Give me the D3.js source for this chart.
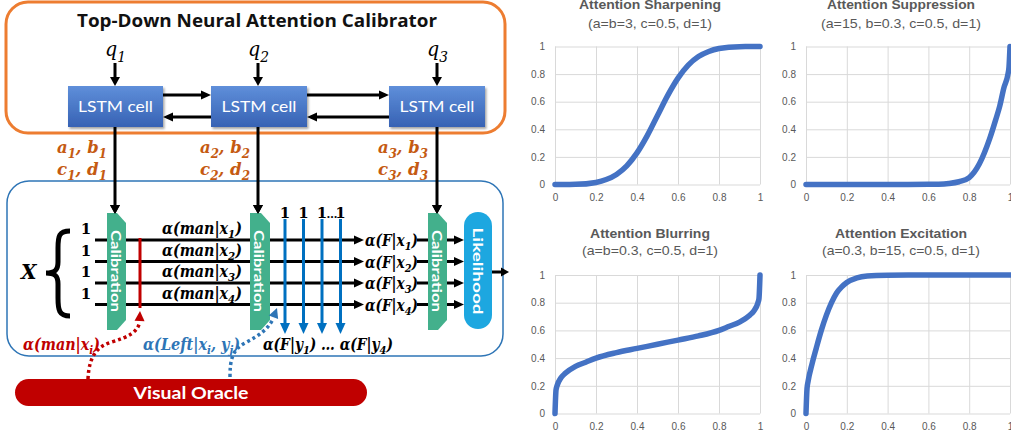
<!DOCTYPE html>
<html><head><meta charset="utf-8">
<script src="https://cdn.jsdelivr.net/npm/d3@7/dist/d3.min.js"></script>
<style>body{margin:0;background:#fff;overflow:hidden}svg{display:block}</style>
</head><body>
<svg id="fig" width="1011" height="438"></svg>
<script>
// ---------------- DATA ----------------
const xSharp = [0, 0.1, 0.2, 0.25, 0.3, 0.35, 0.4, 0.45, 0.5, 0.55, 0.6, 0.65, 0.7, 0.75, 0.8, 0.9, 1];
const ySharp = [0, 0.001, 0.015, 0.036, 0.073, 0.135, 0.229, 0.354, 0.5, 0.646, 0.771, 0.865, 0.927, 0.964, 0.985, 0.999, 1];

const xSupp = [0, 0.2, 0.4, 0.5, 0.6, 0.65, 0.7, 0.75, 0.8, 0.85, 0.9, 0.93, 0.95, 0.97, 0.99, 0.995, 1];
const ySupp = [0, 0, 0, 0, 0.001, 0.002, 0.007, 0.02, 0.05, 0.15, 0.33, 0.47, 0.57, 0.7, 0.8, 0.85, 1];

const xBlur = [0, 0.005, 0.01, 0.03, 0.05, 0.1, 0.15, 0.2, 0.3, 0.4, 0.5, 0.6, 0.7, 0.8, 0.85, 0.9, 0.95, 0.97, 0.99, 0.995, 1];
const yBlur = [0, 0.17, 0.2, 0.26, 0.29, 0.34, 0.37, 0.40, 0.44, 0.47, 0.5, 0.53, 0.56, 0.6, 0.63, 0.66, 0.71, 0.74, 0.8, 0.83, 1];

const xExc = [0, 0.005, 0.01, 0.03, 0.05, 0.075, 0.1, 0.125, 0.15, 0.175, 0.2, 0.25, 0.3, 0.4, 0.5, 0.6, 0.8, 1];
const yExc = [0, 0.18, 0.23, 0.36, 0.47, 0.6, 0.71, 0.8, 0.87, 0.914, 0.946, 0.98, 0.993, 0.999, 1, 1, 1, 1];

const tickValues = [0, 0.2, 0.4, 0.6, 0.8, 1];
const tickLabels = ["0", "0.2", "0.4", "0.6", "0.8", "1"];

const chartTitles = ["Attention Sharpening", "Attention Suppression", "Attention Blurring", "Attention Excitation"];
const chartSubtitles = ["(a=b=3, c=0.5, d=1)", "(a=15, b=0.3, c=0.5, d=1)", "(a=b=0.3, c=0.5, d=1)", "(a=0.3, b=15, c=0.5, d=1)"];

const diagramTitle = "Top-Down Neural Attention Calibrator";
const lstmLabel = "LSTM cell";
const qSubs = ["1", "2", "3"];
const calLabel = "Calibration";
const likelihoodLabel = "Likelihood";
const oracleLabel = "Visual Oracle";
const rowSubs = ["1", "2", "3", "4"];

// ---------------- SETUP ----------------
const svg = d3.select("#fig");
const defs = svg.append("defs");
const lg = defs.append("linearGradient").attr("id", "lstmGrad").attr("x1", 0).attr("y1", 0).attr("x2", 0).attr("y2", 1);
lg.append("stop").attr("offset", "0%").attr("stop-color", "#5F8FDA");
lg.append("stop").attr("offset", "100%").attr("stop-color", "#3762B4");
const flt = defs.append("filter").attr("id", "shadow").attr("x", "-10%").attr("y", "-10%").attr("width", "130%").attr("height", "140%");
flt.append("feDropShadow").attr("dx", 1.5).attr("dy", 2).attr("stdDeviation", 1.2).attr("flood-color", "#000").attr("flood-opacity", 0.35);

const SERIF = "'DejaVu Serif', 'Liberation Serif', serif";
const SANS = "'Lato', 'Open Sans', 'Liberation Sans', sans-serif";

function arrow(g, x1, y1, x2, y2, color, w, hl, hw, dash) {
  const dx = x2 - x1, dy = y2 - y1, L = Math.hypot(dx, dy);
  const ux = dx / L, uy = dy / L;
  const bx = x2 - ux * hl, by = y2 - uy * hl;
  const ln = g.append("line").attr("x1", x1).attr("y1", y1).attr("x2", bx + ux * 0.5).attr("y2", by + uy * 0.5)
    .attr("stroke", color).attr("stroke-width", w);
  if (dash) ln.attr("stroke-dasharray", dash);
  g.append("path").attr("d", `M${x2},${y2} L${bx - uy * hw / 2},${by + ux * hw / 2} L${bx + uy * hw / 2},${by - ux * hw / 2} Z`)
    .attr("fill", color);
}
function head(g, x2, y2, fromx, fromy, color, hl, hw) {
  const dx = x2 - fromx, dy = y2 - fromy, L = Math.hypot(dx, dy);
  const ux = dx / L, uy = dy / L;
  const bx = x2 - ux * hl, by = y2 - uy * hl;
  g.append("path").attr("d", `M${x2},${y2} L${bx - uy * hw / 2},${by + ux * hw / 2} L${bx + uy * hw / 2},${by - ux * hw / 2} Z`)
    .attr("fill", color);
}
// math text: parts = strings or {t, sub}
function mtext(g, x, y, parts, o) {
  const t = g.append("text").attr("x", x).attr("y", y)
    .attr("font-family", o.family || SERIF).attr("font-weight", o.weight || "bold").attr("font-style", o.style || "italic")
    .attr("font-size", o.size).attr("fill", o.color || "#000").attr("text-anchor", o.anchor || "start");
  let shift = 0;
  parts.forEach(p => {
    const s = typeof p === "string" ? { t: p } : p;
    const target = s.sub ? o.size * 0.28 : 0;
    const ts = t.append("tspan").text(s.t);
    if (target - shift !== 0) ts.attr("dy", target - shift);
    if (s.sub) ts.attr("font-size", o.size * 0.72);
    shift = target;
  });
  if (o.width) t.attr("textLength", o.width).attr("lengthAdjust", "spacingAndGlyphs");
  return t;
}

// ---------------- DIAGRAM ----------------
const D = svg.append("g");
// outer boxes
D.append("rect").attr("x", 6).attr("y", 2).attr("width", 499).attr("height", 131).attr("rx", 22)
  .attr("fill", "none").attr("stroke", "#ED7D31").attr("stroke-width", 3);
D.append("rect").attr("x", 7).attr("y", 181).attr("width", 496).attr("height", 175).attr("rx", 22)
  .attr("fill", "none").attr("stroke", "#2E75B6").attr("stroke-width", 1.5);

D.append("text").attr("x", 257).attr("y", 27).attr("text-anchor", "middle")
  .attr("font-family", "'Open Sans', 'Liberation Sans', sans-serif").attr("font-weight", "bold").attr("font-size", 18)
  .attr("fill", "#111").attr("textLength", 360).attr("lengthAdjust", "spacingAndGlyphs").text(diagramTitle);

const lstmX = [68, 211, 389], lstmW = [95, 96, 96];
const colX = [115, 258, 437];
lstmX.forEach((x, i) => {
  // q labels + arrows
  mtext(D, colX[i] - 10, 56, ["q", { t: qSubs[i], sub: true }],
    { size: 21, style: "italic", weight: "normal", family: "'DejaVu Serif', serif", width: 21 });
  arrow(D, colX[i], 63, colX[i], 86, "#000", 3, 9, 10);
  // vertical line from LSTM to calibration
  arrow(D, colX[i], 127, colX[i], 214, "#000", 3, 9, 10);
});
// recurrent arrows
arrow(D, 163, 95, 211, 95, "#000", 3, 10, 9);
arrow(D, 211, 117, 163, 117, "#000", 3, 10, 9);
arrow(D, 307, 95, 389, 95, "#000", 3, 10, 9);
arrow(D, 389, 117, 307, 117, "#000", 3, 10, 9);

lstmX.forEach((x, i) => {
  D.append("rect").attr("x", x).attr("y", 86).attr("width", lstmW[i]).attr("height", 41)
    .attr("fill", "url(#lstmGrad)").attr("filter", "url(#shadow)");
  D.append("text").attr("x", x + lstmW[i] / 2).attr("y", 112).attr("text-anchor", "middle")
    .attr("font-family", SANS).attr("font-size", 15).attr("fill", "#fff")
    .attr("textLength", 75).attr("lengthAdjust", "spacingAndGlyphs").text(lstmLabel);
});

// parameter labels
const paramColor = "#C55A11";
const paramX = [57, 200, 378];
paramX.forEach((x, i) => {
  const s = String(i + 1);
  mtext(D, x, 153, ["a", { t: s, sub: true }, ", b", { t: s, sub: true }], { size: 17, color: paramColor, width: 50 });
  mtext(D, x, 175, ["c", { t: s, sub: true }, ", d", { t: s, sub: true }], { size: 17, color: paramColor, width: 50 });
});

// rows
const rowY = [240, 261.5, 283, 304.5];
rowY.forEach((y, i) => {
  D.append("line").attr("x1", 95).attr("x2", 108).attr("y1", y).attr("y2", y).attr("stroke", "#000").attr("stroke-width", 3);
  D.append("line").attr("x1", 125).attr("x2", 251).attr("y1", y).attr("y2", y).attr("stroke", "#000").attr("stroke-width", 3);
  arrow(D, 269, y, 364, y, "#000", 3, 10, 9);
  D.append("line").attr("x1", 417).attr("x2", 429).attr("y1", y).attr("y2", y).attr("stroke", "#000").attr("stroke-width", 3);
  arrow(D, 446, y, 464, y, "#000", 3, 10, 9);
  // "1" on left
  D.append("text").attr("x", 86).attr("y", y - 6).attr("text-anchor", "middle")
    .attr("font-family", SERIF).attr("font-weight", "bold").attr("font-size", 15).text("1");
  mtext(D, 162, y - 6, ["α(man|x", { t: rowSubs[i], sub: true }, ")"], { size: 16, width: 80 });
  mtext(D, 365, y + 6, ["α(F|x", { t: rowSubs[i], sub: true }, ")"], { size: 16, width: 53 });
});

// X and brace
D.append("text").attr("x", 21).attr("y", 279).attr("font-family", SERIF).attr("font-weight", "bold")
  .attr("font-style", "italic").attr("font-size", 20).text("X");
D.append("path").attr("d", "M70,231 C59,231 58,236 58,248 L58,262 C58,270 55,273 46,273 C55,273 58,276 58,284 L58,298 C58,310 59,316 70,316")
  .attr("fill", "none").attr("stroke", "#000").attr("stroke-width", 5);

// red line
D.append("line").attr("x1", 140).attr("x2", 140).attr("y1", 238).attr("y2", 308).attr("stroke", "#C00000").attr("stroke-width", 3);

// blue arrows
const blueX = [285, 303.5, 322, 340.5];
blueX.forEach(x => arrow(D, x, 219, x, 334, "#0070C0", 3, 11, 10));
blueX.forEach(x => D.append("text").attr("x", x).attr("y", 218).attr("text-anchor", "middle")
  .attr("font-family", SERIF).attr("font-weight", "bold").attr("font-size", 15).text("1"));
D.append("rect").attr("x", 327).attr("y", 200).attr("width", 10).attr("height", 20).attr("fill", "#fff");
D.append("text").attr("x", 332).attr("y", 218).attr("text-anchor", "middle")
  .attr("font-family", SERIF).attr("font-weight", "bold").attr("font-size", 11).text("…");

// calibration blocks
const calX = [107, 250, 428], calW = [19, 20, 19];
calX.forEach((x, i) => {
  const w = calW[i];
  D.append("path").attr("d", `M${x},213 L${x + w - 9},213 L${x + w},223 L${x + w},320 L${x + w - 9},330 L${x},330 Z`)
    .attr("fill", "#43B08C");
  D.append("text").attr("transform", `translate(${x + w / 2 - 0.5},271) rotate(90)`).attr("text-anchor", "middle")
    .attr("dominant-baseline", "central").attr("font-family", SANS).attr("font-weight", "bold").attr("font-size", 14)
    .attr("fill", "#fff").attr("textLength", 82).attr("lengthAdjust", "spacingAndGlyphs").text(calLabel);
});
colX.forEach(x => head(D, x, 214, x, 200, "#000", 9, 10));

// likelihood
D.append("rect").attr("x", 464).attr("y", 212).attr("width", 28).attr("height", 117).attr("rx", 14)
  .attr("fill", "#1DA7E0");
D.append("text").attr("transform", "translate(478,271) rotate(90)").attr("text-anchor", "middle")
  .attr("dominant-baseline", "central").attr("font-family", SANS).attr("font-weight", "bold").attr("font-size", 14)
  .attr("fill", "#fff").attr("textLength", 87).attr("lengthAdjust", "spacingAndGlyphs").text(likelihoodLabel);
arrow(D, 492, 272, 509, 272, "#000", 3, 8, 9);

// bottom labels
mtext(D, 263, 350, ["α(F|y", { t: "1", sub: true }, ") … α(F|y", { t: "4", sub: true }, ")"], { size: 16, width: 130 });
mtext(D, 23, 350, ["α(man|x", { t: "i", sub: true }, ")"], { size: 16, color: "#C00000", width: 77 });
mtext(D, 143, 350, ["α(Left|x", { t: "i", sub: true }, ", y", { t: "j", sub: true }, ")"], { size: 16, color: "#2E75B6", width: 97 });

// dotted curves
D.append("path").attr("d", "M88,379 C89,355 98,346 112,342 C128,337 138,332 139.6,322")
  .attr("fill", "none").attr("stroke", "#C00000").attr("stroke-width", 3.5).attr("stroke-dasharray", "3,3");
head(D, 140, 311, 139.5, 322, "#C00000", 10, 10);
D.append("path").attr("d", "M230,377 C230,360 232,350 245,343 C258,336 268,330 273.5,318")
  .attr("fill", "none").attr("stroke", "#2E75B6").attr("stroke-width", 3.5).attr("stroke-dasharray", "3,3");
head(D, 277, 308, 273, 318.5, "#2E75B6", 10, 10);

// visual oracle
D.append("rect").attr("x", 15).attr("y", 379).attr("width", 352).attr("height", 27).attr("rx", 13.5).attr("fill", "#C00000");
D.append("text").attr("x", 191).attr("y", 399).attr("text-anchor", "middle").attr("font-family", SANS)
  .attr("font-weight", "bold").attr("font-size", 17).attr("fill", "#fff")
  .attr("textLength", 115).attr("lengthAdjust", "spacingAndGlyphs").text(oracleLabel);

// ---------------- CHARTS ----------------
const charts = [
  { xs: xSharp, ys: ySharp, l: 555, r: 760, t: 46.5, b: 184.5, tc: 650, ty: 9, sy: 28, tw: 142, sw: 124 },
  { xs: xSupp, ys: ySupp, l: 806, r: 1010, t: 46.5, b: 184.5, tc: 901, ty: 9, sy: 28, tw: 148, sw: 160 },
  { xs: xBlur, ys: yBlur, l: 555, r: 760, t: 275, b: 413.5, tc: 650, ty: 238, sy: 255, tw: 120, sw: 136 },
  { xs: xExc, ys: yExc, l: 806, r: 1010, t: 275, b: 413.5, tc: 901, ty: 238, sy: 255, tw: 132, sw: 158 }
];
const CF = "'Liberation Sans', Arial, sans-serif";
charts.forEach((c, i) => {
  const g = svg.append("g");
  const x = d3.scaleLinear().domain([0, 1]).range([c.l, c.r]);
  const y = d3.scaleLinear().domain([0, 1]).range([c.b, c.t]);
  const gx = g.append("g").attr("transform", `translate(0,${c.b})`)
    .call(d3.axisBottom(x).tickValues(tickValues).tickSize(-(c.b - c.t)).tickPadding(9)
      .tickFormat((d, k) => tickLabels[k]));
  const gy = g.append("g").attr("transform", `translate(${c.l},0)`)
    .call(d3.axisLeft(y).tickValues(tickValues).tickSize(-(c.r - c.l)).tickPadding(10)
      .tickFormat((d, k) => tickLabels[k]));
  [gx, gy].forEach(a => {
    a.select(".domain").remove();
    a.selectAll(".tick line").attr("stroke", "#D9D9D9").attr("stroke-width", 1);
    a.selectAll(".tick text").attr("fill", "#595959").attr("font-family", CF).attr("font-size", 10);
  });
  gx.selectAll(".tick text").attr("dy", "0.71em");
  const pts = c.xs.map((v, k) => [v, c.ys[k]]);
  g.append("path").datum(pts)
    .attr("d", d3.line().x(d => x(d[0])).y(d => y(d[1])).curve(d3.curveMonotoneX))
    .attr("fill", "none").attr("stroke", "#4472C4").attr("stroke-width", 5.5).attr("stroke-linecap", "round").attr("stroke-linejoin", "round");
  g.append("text").attr("x", c.tc).attr("y", c.ty).attr("text-anchor", "middle").attr("font-family", CF)
    .attr("font-weight", "bold").attr("font-size", 13.5).attr("fill", "#595959")
    .attr("textLength", c.tw).attr("lengthAdjust", "spacingAndGlyphs").text(chartTitles[i]);
  g.append("text").attr("x", c.tc).attr("y", c.sy).attr("text-anchor", "middle").attr("font-family", CF)
    .attr("font-size", 13).attr("fill", "#595959")
    .attr("textLength", c.sw).attr("lengthAdjust", "spacingAndGlyphs").text(chartSubtitles[i]);
});
</script>
</body></html>
